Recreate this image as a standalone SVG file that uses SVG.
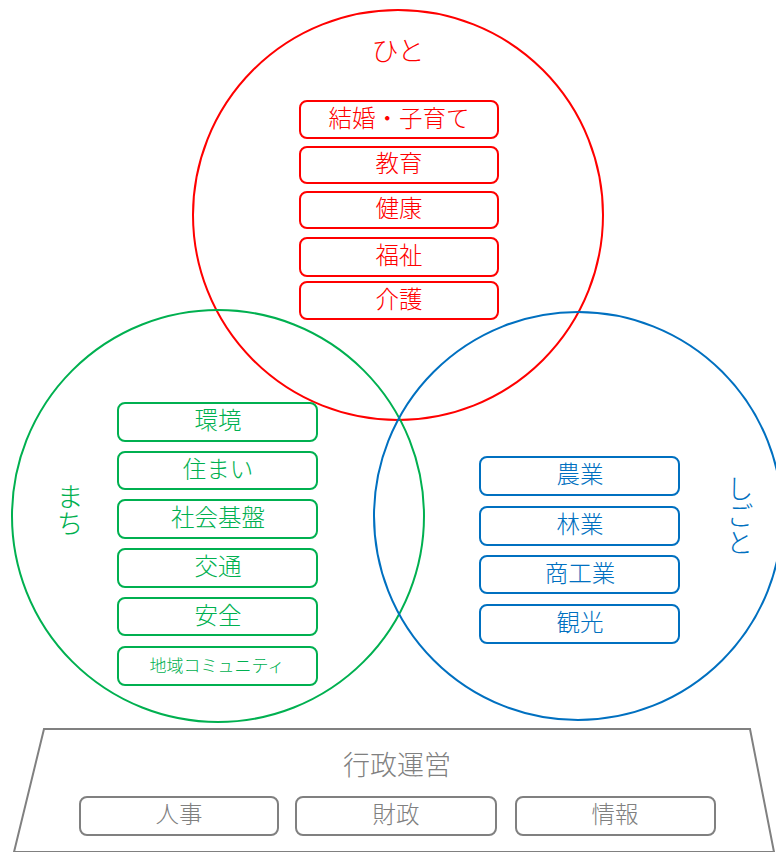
<svg xmlns="http://www.w3.org/2000/svg" width="776" height="852" viewBox="0 0 776 852">
<style>
text{font-family:"Noto Sans CJK JP","Noto Sans",sans-serif;font-weight:300;text-anchor:middle;dominant-baseline:central}
.v{writing-mode:vertical-rl}
.c{fill:none;stroke-width:2}
.b{fill:#fff;stroke-width:2}
.r{stroke:#FF0000}.rt{fill:#FF0000}
.g{stroke:#00B050}.gt{fill:#00B050}
.u{stroke:#0070C0}.ut{fill:#0070C0}
.k{stroke:#808080}.kt{fill:#808080}
.t{font-size:23.5px}
.h{font-size:27px}
</style>
<rect width="776" height="852" fill="#fff"/>
<g id="base">
<polygon points="44,729 750,729 774,852 14,852" fill="none" stroke="#808080" stroke-width="2"/>
<text x="397" y="763" class="kt" font-size="27">行政運営</text>
</g>
<g id="circle-hito"><circle cx="398" cy="215" r="205" class="c r"/><text x="398" y="49" class="rt h">ひと</text></g>
<g id="circle-machi"><circle cx="218" cy="516" r="206" class="c g"/><text x="70" y="510" class="gt h v">まち</text></g>
<g id="circle-shigoto"><circle cx="578" cy="516" r="204" class="c u"/><text x="740" y="516" class="ut h v">しごと</text></g>
<g id="hito-items">
<g id="n-kekkon"><rect x="300" y="101" width="198" height="37" rx="7" class="b r"/><text x="399" y="116.5" class="rt t">結婚・子育て</text></g>
<g id="n-kyoiku"><rect x="300" y="147" width="198" height="36" rx="7" class="b r"/><text x="399" y="162" class="rt t">教育</text></g>
<g id="n-kenko"><rect x="300" y="192" width="198" height="36" rx="7" class="b r"/><text x="399" y="207" class="rt t">健康</text></g>
<g id="n-fukushi"><rect x="300" y="238" width="198" height="38" rx="7" class="b r"/><text x="399" y="254" class="rt t">福祉</text></g>
<g id="n-kaigo"><rect x="300" y="282" width="198" height="37" rx="7" class="b r"/><text x="399" y="297.5" class="rt t">介護</text></g>
</g>
<g id="machi-items">
<g id="n-kankyo"><rect x="118" y="403" width="199" height="38" rx="7" class="b g"/><text x="218" y="419" class="gt t">環境</text></g>
<g id="n-sumai"><rect x="118" y="452" width="199" height="37" rx="7" class="b g"/><text x="218" y="467.5" class="gt t">住まい</text></g>
<g id="n-kiban"><rect x="118" y="500" width="199" height="38" rx="7" class="b g"/><text x="218" y="516" class="gt t">社会基盤</text></g>
<g id="n-kotsu"><rect x="118" y="549" width="199" height="38" rx="7" class="b g"/><text x="218" y="565" class="gt t">交通</text></g>
<g id="n-anzen"><rect x="118" y="598" width="199" height="37" rx="7" class="b g"/><text x="218" y="613.5" class="gt t">安全</text></g>
<g id="n-community"><rect x="118" y="647" width="199" height="38" rx="7" class="b g"/><text x="217" y="664" class="gt" font-size="17">地域コミュニティ</text></g>
</g>
<g id="shigoto-items">
<g id="n-nogyo"><rect x="480" y="457" width="199" height="38" rx="7" class="b u"/><text x="580" y="473" class="ut t">農業</text></g>
<g id="n-ringyo"><rect x="480" y="507" width="199" height="38" rx="7" class="b u"/><text x="580" y="523" class="ut t">林業</text></g>
<g id="n-shoko"><rect x="480" y="556" width="199" height="37" rx="7" class="b u"/><text x="580" y="571.5" class="ut t">商工業</text></g>
<g id="n-kanko"><rect x="480" y="605" width="199" height="38" rx="7" class="b u"/><text x="580" y="621" class="ut t">観光</text></g>
</g>
<g id="base-items">
<g id="n-jinji"><rect x="80" y="797" width="198" height="38" rx="7" class="b k"/><text x="179" y="813" class="kt t">人事</text></g>
<g id="n-zaisei"><rect x="296" y="797" width="200" height="38" rx="7" class="b k"/><text x="396" y="813" class="kt t">財政</text></g>
<g id="n-joho"><rect x="516" y="797" width="199" height="38" rx="7" class="b k"/><text x="615" y="813" class="kt t">情報</text></g>
</g>
<g id="connectors"></g>
</svg>
